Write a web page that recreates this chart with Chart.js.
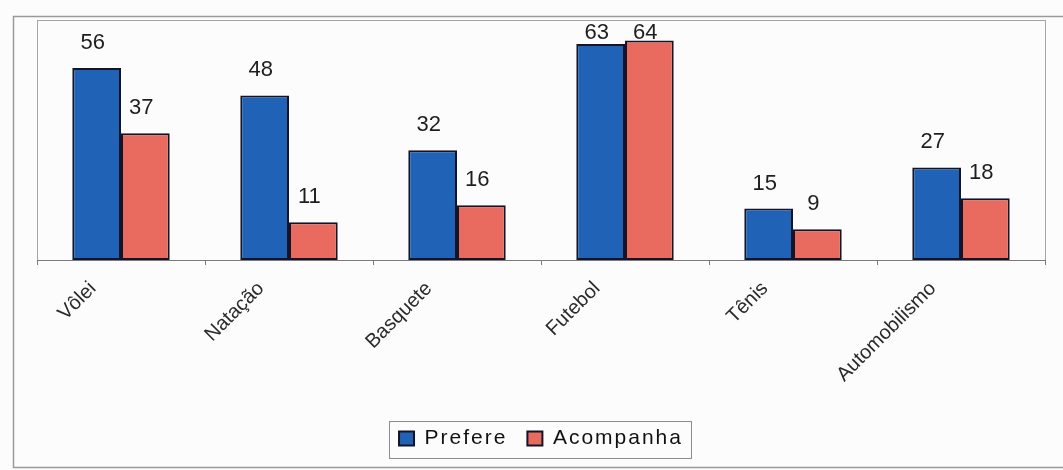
<!DOCTYPE html>
<html>
<head>
<meta charset="utf-8">
<script src="https://cdn.jsdelivr.net/npm/chart.js@4.4.0/dist/chart.umd.min.js"></script>
<style>
  body { margin: 0; background: #fcfcfc; }
  canvas { display: block; }
</style>
</head>
<body>
<canvas id="grafico" width="1063" height="470"></canvas>
<script>
// dados
const esportes = ['Vôlei', 'Natação', 'Basquete', 'Futebol', 'Tênis', 'Automobilismo'];
const prefere = [56, 48, 32, 63, 15, 27];
const acompanha = [37, 11, 16, 64, 9, 18];
const escalaMax = 70;

const FONTE = '"Liberation Sans", Arial, sans-serif';
const MARGEM_BAIXO = 11;

// legenda com letras mais espaçadas (medida e desenho)
const legendaEspacada = {
  id: 'legendaEspacada',
  beforeLayout(chart) {
    const lg = chart.legend;
    if (!lg || lg._espacada) return;
    const fit = lg.fit, draw = lg.draw;
    lg.fit = function () {
      const c = this.ctx; c.save(); c.letterSpacing = '2px'; fit.call(this); c.restore();
    };
    lg.draw = function () {
      const c = this.ctx; c.save(); c.letterSpacing = '2px'; draw.apply(this, arguments); c.restore();
    };
    lg._espacada = true;
  }
};

// fundo, moldura externa, borda da area de plotagem e caixa da legenda
const molduras = {
  id: 'molduras',
  beforeDraw(chart) {
    const ctx = chart.ctx;
    const a = chart.chartArea;
    ctx.save();
    ctx.fillStyle = '#fcfcfc';
    ctx.fillRect(0, 0, chart.width, chart.height);
    ctx.strokeStyle = '#9a9a9a';
    ctx.lineWidth = 1.5;
    ctx.strokeRect(13.5, 16.5, chart.width + 20, 451);
    ctx.strokeStyle = '#a5a5a5';
    ctx.lineWidth = 1;
    ctx.strokeRect(a.left + 0.5, a.top + 0.5, a.right - a.left, a.bottom - a.top);
    ctx.restore();
  },
  afterDraw(chart) {
    const caixas = chart.legend.legendHitBoxes;
    if (!caixas || !caixas.length) return;
    const ult = caixas[caixas.length - 1];
    const meio = caixas[0].top + caixas[0].height / 2;
    const ctx = chart.ctx;
    ctx.save();
    ctx.strokeStyle = '#8c8c8c';
    ctx.lineWidth = 1;
    ctx.strokeRect(Math.round(caixas[0].left - 10) + 0.5, Math.round(meio - 18) + 0.5,
      Math.round(ult.left + ult.width - caixas[0].left + 18), 37);
    ctx.restore();
  }
};

// valor escrito acima de cada barra, sem sair da area de plotagem
const rotulos = {
  id: 'rotulos',
  afterDatasetsDraw(chart) {
    const ctx = chart.ctx;
    const topo = chart.chartArea.top;
    ctx.save();
    ctx.font = '22px ' + FONTE;
    ctx.fillStyle = '#1e1e1e';
    ctx.textAlign = 'center';
    ctx.textBaseline = 'middle';
    chart.data.datasets.forEach((ds, d) => {
      chart.getDatasetMeta(d).data.forEach((barra, i) => {
        const y = Math.max(barra.y - 25, topo + 12.5);
        ctx.fillText(String(ds.data[i]), barra.x - 4, y);
      });
    });
    ctx.restore();
  }
};

new Chart(document.getElementById('grafico'), {
  type: 'bar',
  data: {
    labels: esportes,
    datasets: [
      {
        label: 'Prefere',
        data: prefere,
        backgroundColor: '#2062b6',
        borderColor: '#141428',
        borderWidth: 2,
        borderSkipped: false
      },
      {
        label: 'Acompanha',
        data: acompanha,
        backgroundColor: '#e96a5e',
        borderColor: '#141428',
        borderWidth: 2,
        borderSkipped: false
      }
    ]
  },
  options: {
    responsive: false,
    animation: false,
    categoryPercentage: 0.58,
    barPercentage: 1.0,
    layout: {
      padding: { left: 37, right: 18, top: 20, bottom: MARGEM_BAIXO }
    },
    plugins: {
      tooltip: { enabled: false },
      legend: {
        position: 'bottom',
        labels: {
          boxWidth: 15,
          boxHeight: 14,
          padding: 20,
          color: '#111',
          font: { size: 21, family: FONTE }
        }
      }
    },
    scales: {
      x: {
        border: { display: true, color: '#7a7a7a', width: 1 },
        grid: {
          display: true,
          drawOnChartArea: false,
          drawTicks: true,
          tickLength: 5,
          color: '#7a7a7a',
          offset: true
        },
        ticks: {
          minRotation: 45,
          maxRotation: 45,
          autoSkip: false,
          labelOffset: -28,
          padding: 12,
          color: '#2a2a2a',
          font: { size: 20, family: FONTE }
        },
        afterFit(scale) {
          scale.height = 470 - MARGEM_BAIXO - scale.chart.legend.height - 260;
        }
      },
      y: {
        display: false,
        min: 0,
        max: escalaMax
      }
    }
  },
  plugins: [legendaEspacada, molduras, rotulos]
});
</script>
</body>
</html>
